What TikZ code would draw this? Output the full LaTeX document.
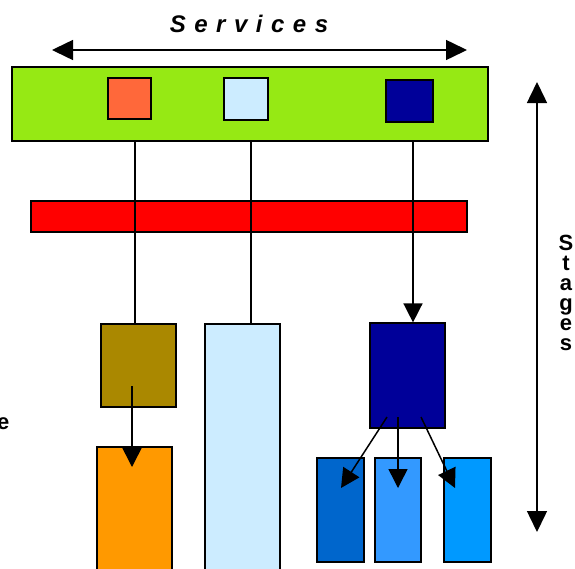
\documentclass[tikz,border=0pt]{standalone}
\usepackage{fontspec}
\setmainfont{Liberation Sans}
\usetikzlibrary{arrows.meta,positioning}
\definecolor{svcgreen}{RGB}{150,233,20}
\definecolor{svcorange}{RGB}{255,104,58}
\definecolor{paleblue}{RGB}{204,236,255}
\definecolor{navy}{RGB}{0,0,153}
\definecolor{olive}{RGB}{170,136,0}
\definecolor{amber}{RGB}{255,153,0}
\definecolor{blueA}{RGB}{0,102,204}
\definecolor{blueB}{RGB}{51,153,255}
\definecolor{blueC}{RGB}{0,153,255}
\tikzset{box/.style={draw=black,line width=1.2pt,inner sep=0pt},
	link/.style={line width=1.5pt},
	arr/.style={line width=1.5pt,-{Triangle[length=19pt,width=19pt]}},
	axis arrow/.style={line width=1.5pt,{Triangle[length=21pt,width=20pt]}-{Triangle[length=21pt,width=20pt]}},
	big label/.style={font=\bfseries\fontsize{22}{20}\selectfont,inner sep=0pt}}

\begin{document}
\begin{tikzpicture}[x=1pt,y=-1pt]
			\useasboundingbox (0,0) rectangle (575,568);
			\clip (0,0) rectangle (575,568);
			% services
			\node[font=\bfseries\itshape\fontsize{24}{28}\selectfont,inner sep=0pt,anchor=base] (svc) at (249,32) {\spaceskip=8.5pt S e r v i c e s};
			\coordinate (hl) at (52,50);
			\coordinate (hr) at (467,50);
			\draw[axis arrow] (hl) -- (hr);
			\node[box,fill=svcgreen,minimum width=476pt,minimum height=74pt] (bar) at (250,104) {};
			\node[box,fill=svcorange,minimum width=43pt,minimum height=41pt] (sqA) at (129.5,98.5) {};
			\node[box,fill=paleblue,minimum width=44pt,minimum height=42pt] (sqB) at (246,99) {};
			\node[box,fill=navy,minimum width=47pt,minimum height=42pt] (sqC) at (409.5,101) {};
			\node[box,fill=red,minimum width=436pt,minimum height=31pt] (redbar) at (249,216.5) {};
			% stages
			\node[box,fill=olive,minimum width=75pt,minimum height=83pt] (olivebox) at (138.5,365.5) {};
			\node[box,fill=amber,minimum width=75pt,minimum height=153pt] (amberbox) at (134.5,523.5) {};
			\node[box,fill=paleblue,minimum width=75pt,minimum height=276pt] (tallbox) at (242.5,462) {};
			\node[box,fill=navy,minimum width=75pt,minimum height=105pt] (navybox) at (407.5,375.5) {};
			\node[box,fill=blueA,minimum width=47pt,minimum height=104pt] (subA) at (340.5,510) {};
			\node[box,fill=blueB,minimum width=46pt,minimum height=104pt] (subB) at (398,510) {};
			\node[box,fill=blueC,minimum width=47pt,minimum height=104pt] (subC) at (467.5,510) {};
			% links
			\coordinate (lnA) at ([xshift=-3.5pt]olivebox.north);
			\coordinate (lnB) at ([xshift=8.5pt]tallbox.north);
			\coordinate (lnC) at ([xshift=5.5pt]navybox.north);
			\draw[link] (lnA |- bar.south) -- (lnA);
			\draw[link] (lnB |- bar.south) -- (lnB);
			\draw[arr] (lnC |- bar.south) -- (lnC);
			\coordinate (oa) at (132,386);
			\coordinate (ob) at (132,467);
			\draw[arr] (oa) -- (ob);
			\coordinate (na) at (387,417);
			\coordinate (nb) at (398,417);
			\coordinate (nc) at (421,417);
			\coordinate (ta) at (341,488);
			\coordinate (tb) at (398,488);
			\coordinate (tc) at (455,488);
			\draw[arr] (na) -- (ta);
			\draw[arr] (nb) -- (tb);
			\draw[arr] (nc) -- (tc);
			% side labels
			\coordinate (vt) at (537,82);
			\coordinate (vb) at (537,532);
			\draw[axis arrow] (vt) -- (vb);
			\node[big label,align=center,anchor=north] (stg) at (566,235) {S\\t\\a\\g\\e\\s};
			\node[big label,anchor=base east] (cut) at (9.5,429) {e};
		\end{tikzpicture}
\end{document}
